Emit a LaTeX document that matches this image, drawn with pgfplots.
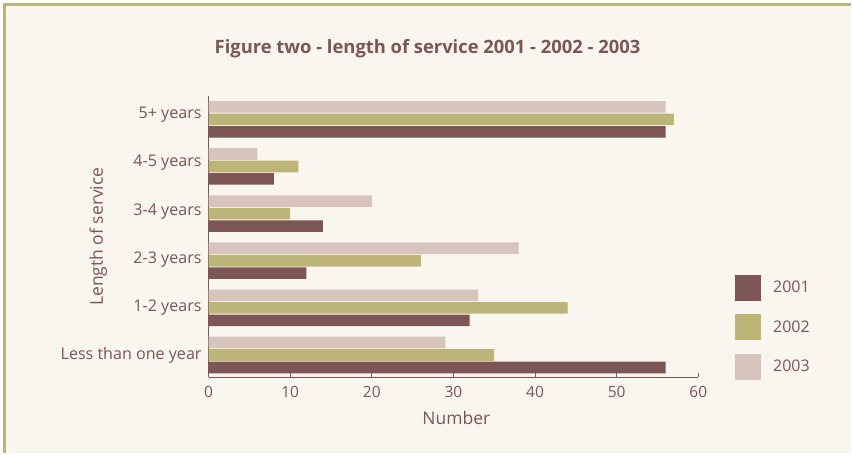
\documentclass[border=0pt]{standalone}
\usepackage{fontspec}
\setmainfont{Open Sans}
\usepackage{pgfplots}
\pgfplotsset{compat=1.18}
\definecolor{bg}{HTML}{F9F6F0}
\definecolor{frame}{HTML}{BDB57A}
\definecolor{cA}{HTML}{7D5555}
\definecolor{cB}{HTML}{BDB478}
\definecolor{cC}{HTML}{D6C4BD}
\definecolor{txt}{HTML}{7D5555}
\begin{document}
\begin{tikzpicture}
\fill[white] (0pt,0pt) rectangle (852pt,454pt);
\fill[bg] (3.3pt,0pt) rectangle (852pt,450.7pt);
\draw[frame, line width=2.4pt] (4.5pt,0pt) -- (4.5pt,449.5pt) -- (852pt,449.5pt);
\begin{axis}[
  at={(208.8pt,76pt)}, anchor=south west,
  scale only axis, width=490.5pt, height=282pt,
  xmin=0, xmax=60, ymin=-0.477, ymax=5.498,
  xbar, bar width=11.6pt,
  axis x line*=bottom, axis y line*=left,
  axis line style={txt, line width=0.9pt, -},
  xtick={0,10,...,60},
  ytick={-0.095,0.922,1.939,2.956,3.994,5.011},
  yticklabels={Less than one year,1-2 years,2-3 years,3-4 years,4-5 years,5+ years},
  tick align=inside, major tick length=4pt,
  xtick style={txt, line width=0.9pt},
  ytick style={draw=none},
  /pgf/number format/assume math mode=true,
  xticklabel style={font=\fontsize{15.5}{16}\selectfont, text=txt, anchor=base, inner sep=0pt, yshift=-19.7pt},
  yticklabel style={font=\fontsize{16.1}{17}\selectfont, text=txt, anchor=base east, inner sep=0pt, xshift=-6.8pt},
  xlabel={Number},
  xlabel style={at={(axis description cs:0.506,-0.1667)}, anchor=base, font=\fontsize{17.5}{18}\selectfont, text=txt},
  ylabel={Length of service},
  ylabel style={at={(axis description cs:-0.2157,0.5)}, anchor=base, font=\fontsize{17.5}{18}\selectfont, text=txt},
  title={Figure two - length of service 2001 - 2002 - 2003},
  title style={at={(axis description cs:0.447,1.1277)}, anchor=base, font=\bfseries\fontsize{18.4}{19}\selectfont, text=txt},
  legend style={at={(axis description cs:1.075,0.365)}, anchor=north west, draw=none, fill=none, inner sep=0pt, row sep=13.5pt, font=\fontsize{16}{16}\selectfont, text=txt, /tikz/every odd column/.append style={column sep=10pt}},
  legend cell align=left,
  legend image code/.code={\path[#1] (0pt,-13pt) rectangle (26pt,13pt);},
]
\addplot[fill=cA, draw=none, bar shift=-12.5pt] coordinates {(56,0) (32,1) (12,2) (14,3) (8,4) (56,5)};
\addplot[fill=cB, draw=none, bar shift=0pt] coordinates {(35,0) (44,1) (26,2) (10,3) (11,4) (57,5)};
\addplot[fill=cC, draw=none, bar shift=12.5pt] coordinates {(29,0) (33,1) (38,2) (20,3) (6,4) (56,5)};
\legend{2001,2002,2003}
\end{axis}
\end{tikzpicture}
\end{document}
